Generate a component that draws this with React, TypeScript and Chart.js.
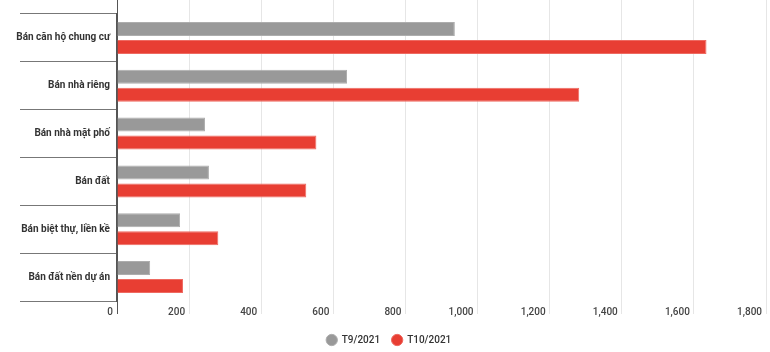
import React, { useEffect, useRef } from "react";
import { Chart, registerables } from "chart.js";

Chart.register(...registerables);

const categories = [
  "Bán căn hộ chung cư",
  "Bán nhà riêng",
  "Bán nhà mặt phố",
  "Bán đất",
  "Bán biệt thự, liền kề",
  "Bán đất nền dự án",
];
const seriesNames = ["T9/2021", "T10/2021"];
const t9Values = [937, 638, 244, 255, 175, 92];
const t10Values = [1635, 1282, 553, 525, 281, 183];
const xMin = 0;
const xMax = 1800;
const xStep = 200;

const GRAY = "#999999";
const RED = "#e83e33";
const AXIS = "#555555";
const GRID = "#e6e6e6";
const FONT = "Roboto, 'Noto Sans', sans-serif";

const legendShift = {
  id: "legendShift",
  afterLayout(chart: any) {
    const lg = chart.legend;
    if (lg) {
      lg.top += 3;
      lg.bottom += 3;
      lg.left += 6;
      lg.right += 6;
    }
  },
};

export default function App() {
  const ref = useRef<HTMLCanvasElement | null>(null);
  useEffect(() => {
    if (!ref.current) return;
    const gridColor = (ctx: any) => (ctx.tick && ctx.tick.value === 0 ? AXIS : GRID);
    const chart = new Chart(ref.current, {
      type: "bar",
      data: {
        labels: categories,
        datasets: [
          {
            label: seriesNames[0],
            data: t9Values,
            backgroundColor: GRAY,
            borderColor: "#adadad",
            borderWidth: 1,
            categoryPercentage: 0.75,
            barPercentage: 0.78,
            xAxisID: "x",
          },
          {
            label: seriesNames[1],
            data: t10Values,
            backgroundColor: RED,
            borderColor: "#ee6a61",
            borderWidth: 1,
            categoryPercentage: 0.75,
            barPercentage: 0.78,
            xAxisID: "x",
          },
        ],
      },
      options: {
        indexAxis: "y",
        animation: false,
        responsive: true,
        maintainAspectRatio: false,
        layout: { padding: { left: 0, right: 4, top: 0, bottom: 0 } },
        plugins: {
          tooltip: { enabled: false },
          legend: {
            position: "bottom",
            labels: {
              usePointStyle: true,
              pointStyle: "circle",
              boxWidth: 10,
              boxHeight: 8,
              padding: 12,
              color: "#333333",
              font: { family: FONT, size: 10, weight: "500" },
            },
          },
        },
        scales: {
          x: {
            type: "linear",
            position: "bottom",
            min: xMin,
            max: xMax,
            afterFit: (s: any) => {
              s.height = 19;
            },
            ticks: {
              stepSize: xStep,
              align: "end",
              labelOffset: -4,
              padding: -8,
              color: "#444444",
              font: { family: FONT, size: 10, weight: "500" },
              callback: (v: any) => Number(v).toLocaleString("en-US"),
            },
            grid: {
              color: gridColor,
              tickColor: gridColor,
              tickLength: 13,
              lineWidth: 1,
            },
            border: { display: false },
          },
          x2: {
            type: "linear",
            position: "top",
            min: xMin,
            max: xMax,
            ticks: { stepSize: xStep, display: false },
            grid: {
              drawOnChartArea: false,
              color: gridColor,
              tickColor: gridColor,
              tickLength: 14,
            },
            border: { display: false },
          },
          y: {
            type: "category",
            position: "left",
            afterFit: (s: any) => {
              s.width = 117;
            },
            ticks: {
              padding: -90,
              color: "#333333",
              font: { family: FONT, size: 10, weight: "bold" },
            },
            grid: {
              drawOnChartArea: false,
              offset: true,
              tickLength: 97,
              color: "#777777",
              tickColor: "#777777",
            },
            border: { display: true, color: AXIS, width: 1.5 },
          },
        },
      },
      plugins: [legendShift],
    });
    return () => chart.destroy();
  }, []);
  return (
    <div style={{ position: "absolute", left: 0, top: 0, width: 770, height: 352 }}>
      <canvas ref={ref} />
    </div>
  );
}
